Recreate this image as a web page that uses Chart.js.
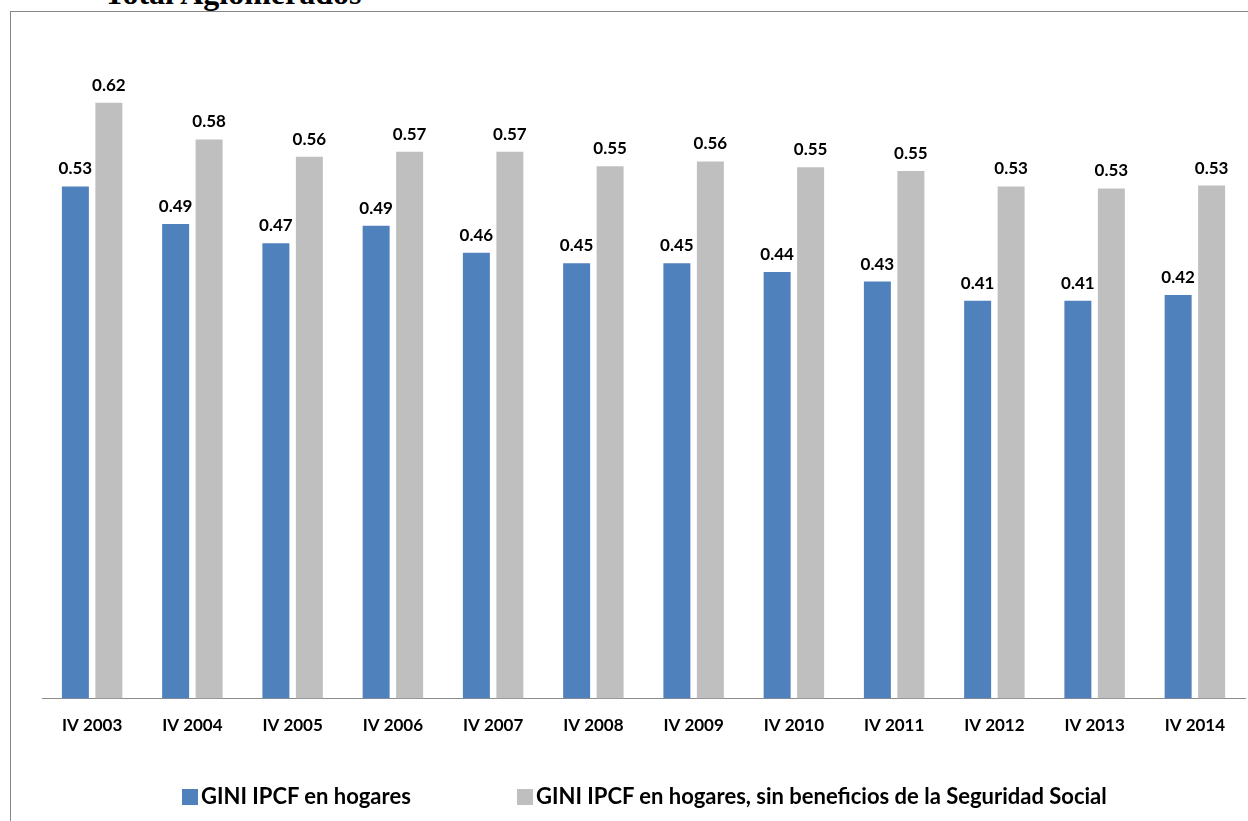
<!DOCTYPE html>
<html>
<head>
<meta charset="utf-8">
<title>GINI IPCF - Total Aglomerados</title>
<script src="https://cdn.jsdelivr.net/npm/chart.js"></script>
<style>
    body { margin: 0; background: #fff; width: 1248px; height: 821px; overflow: hidden; position: relative; }
    #titulo { position: absolute; left: 104px; top: -23px; font: bold 32px "Liberation Serif", serif; line-height: 32px; color: #000; white-space: nowrap; }
    #marco { position: absolute; left: 10px; top: 11px; width: 1300px; height: 900px; border-left: 1px solid #878787; border-top: 1px solid #878787; }
    #graf { position: absolute; left: 0; top: 0; }
    .item { position: absolute; top: 786px; font: bold 22px Lato, sans-serif; color: #000; white-space: nowrap; line-height: 20px; }
    .caja { display: inline-block; width: 16px; height: 16px; margin-right: 3px; vertical-align: -1px; }
</style>
</head>
<body>
<div id="titulo">Total Aglomerados</div>
<div id="marco"></div>
<canvas id="graf" width="1248" height="821"></canvas>
<div id="leyenda"></div>

<script>
    // datos
    const periodos = ['IV 2003', 'IV 2004', 'IV 2005', 'IV 2006', 'IV 2007', 'IV 2008',
                      'IV 2009', 'IV 2010', 'IV 2011', 'IV 2012', 'IV 2013', 'IV 2014'];
    const giniHogares = [0.533, 0.494, 0.474, 0.492, 0.464, 0.453, 0.453, 0.444, 0.434, 0.414, 0.414, 0.420];
    const giniSinSS = [0.620, 0.582, 0.564, 0.569, 0.569, 0.554, 0.559, 0.553, 0.549, 0.533, 0.531, 0.534];
    const nombres = ['GINI IPCF en hogares', 'GINI IPCF en hogares, sin beneficios de la Seguridad Social'];
    const colores = ['#4F81BD', '#BFBFBF'];

    // etiquetas con el valor arriba de cada barra
    const etiquetas = {
        id: 'etiquetas',
        afterDatasetsDraw(chart) {
            const ctx = chart.ctx;
            ctx.save();
            ctx.font = 'bold 17px Lato';
            ctx.fillStyle = '#000';
            ctx.textAlign = 'center';
            ctx.textBaseline = 'alphabetic';
            chart.data.datasets.forEach((ds, i) => {
                chart.getDatasetMeta(i).data.forEach((bar, j) => {
                    ctx.fillText(ds.data[j].toFixed(2), bar.x, bar.y - 12);
                });
            });
            ctx.restore();
        }
    };

    const ctx = document.getElementById('graf').getContext('2d');
    const grafico = new Chart(ctx, {
        type: 'bar',
        data: {
            labels: periodos,
            datasets: [
                { label: nombres[0], data: giniHogares, backgroundColor: colores[0] },
                { label: nombres[1], data: giniSinSS, backgroundColor: colores[1] },
            ],
        },
        options: {
            responsive: false,
            animation: false,
            categoryPercentage: 0.668,
            barPercentage: 0.806,
            layout: { padding: { left: 42, right: 3, top: 26, bottom: 68 } },
            plugins: {
                legend: { display: false },
                tooltip: { enabled: false },
            },
            scales: {
                x: {
                    grid: { display: false, drawTicks: false },
                    border: { display: true, color: '#8c8c8c', width: 1 },
                    ticks: { color: '#000', font: { family: 'Lato', weight: 'bold', size: 17 }, padding: 17, maxRotation: 0, autoSkip: false },
                },
                y: {
                    display: false,
                    min: 0,
                    max: 0.7,
                },
            },
        },
        plugins: [etiquetas],
    });

    // leyenda abajo
    const leyenda = document.getElementById('leyenda');
    const posX = [182, 517];
    nombres.forEach((n, i) => {
        const item = document.createElement('div');
        item.className = 'item';
        item.style.left = posX[i] + 'px';
        item.innerHTML = `<span class="caja" style="background:${colores[i]}"></span>${n}`;
        leyenda.appendChild(item);
    });
</script>
</body>
</html>
